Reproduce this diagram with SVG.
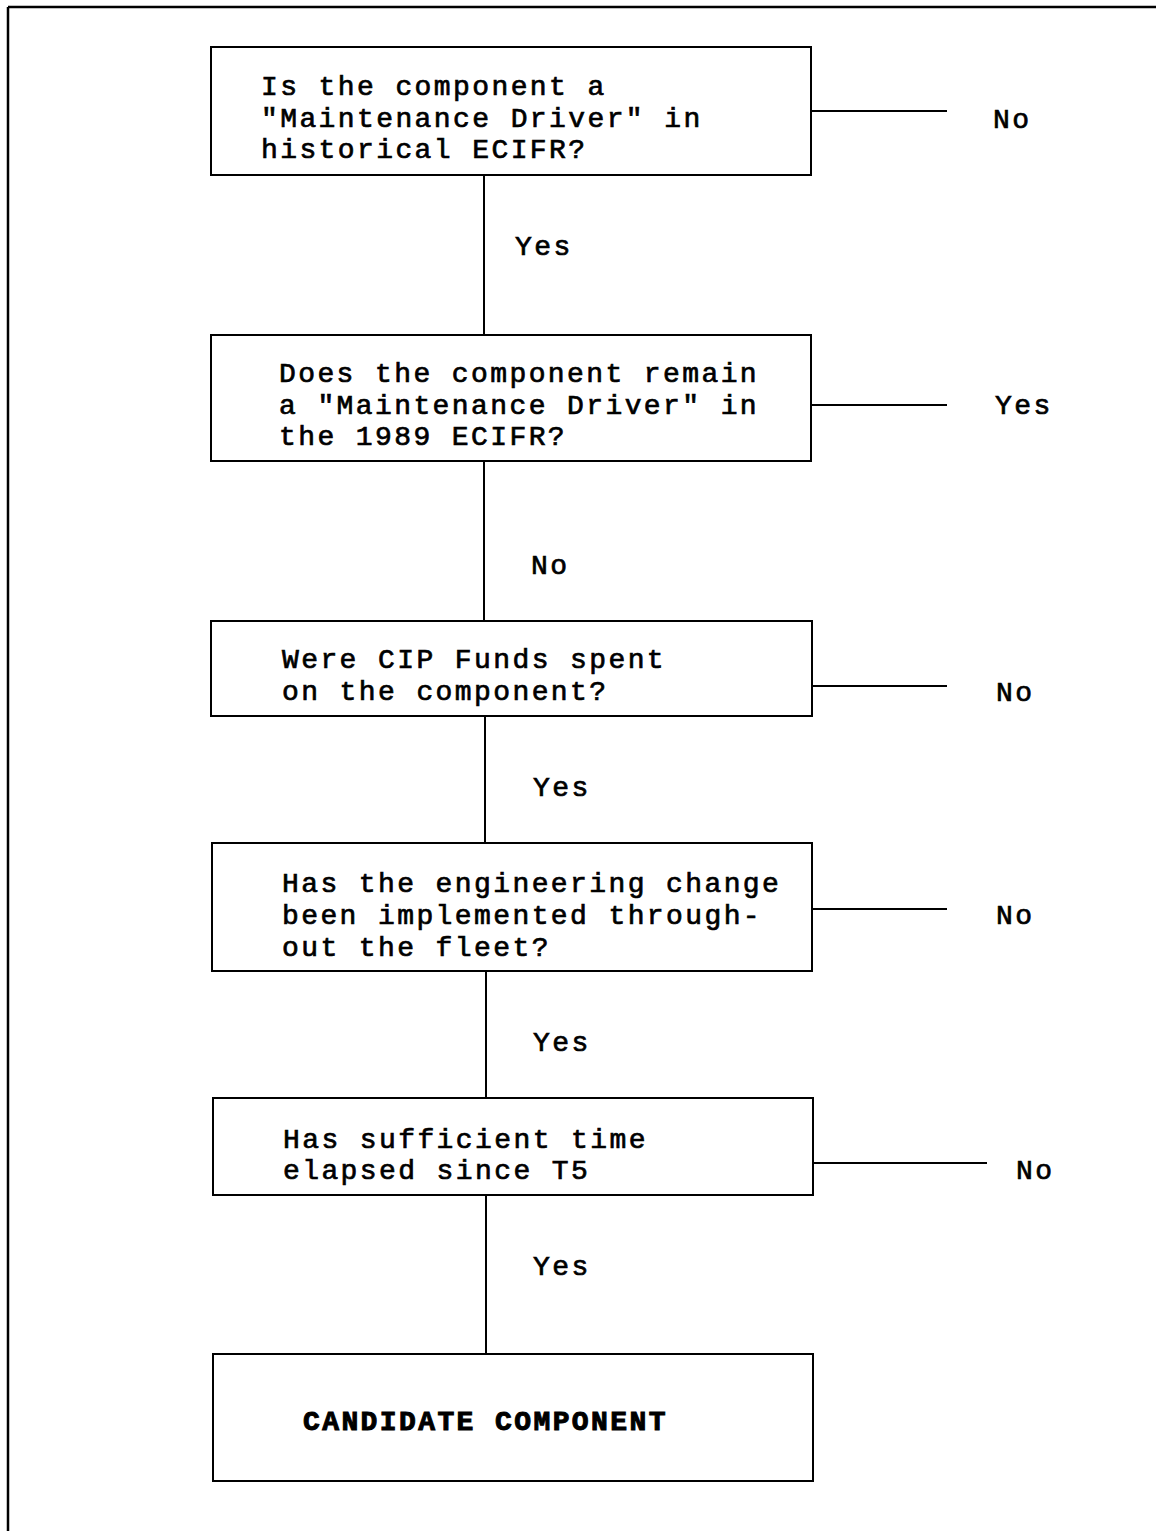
<svg xmlns="http://www.w3.org/2000/svg" width="1156" height="1531" viewBox="0 0 1156 1531">
<style>
.box{fill:#fff;stroke:#000;stroke-width:2}
.ln{stroke:#000;stroke-width:2;fill:none}
.frame{stroke:#000;stroke-width:2.5;fill:none}
.t{font-family:"Liberation Mono","Courier New",monospace;font-size:28px;letter-spacing:2.4px;fill:#000;stroke:#000;stroke-width:0.7}
.b{font-weight:bold;stroke-width:1}
</style>
<rect width="1156" height="1531" fill="#fff"/>
<g id="frame">
<path class="frame" d="M8,7 H1156 M8,7 V1531"/>
</g>
<g id="connectors">
<path class="ln" d="M484,175 V335"/>
<path class="ln" d="M484,461 V621"/>
<path class="ln" d="M485,716 V843"/>
<path class="ln" d="M486,971 V1098"/>
<path class="ln" d="M486,1195 V1354"/>
<path class="ln" d="M811,111 H947"/>
<path class="ln" d="M811,405 H947"/>
<path class="ln" d="M812,686 H947"/>
<path class="ln" d="M812,909 H947"/>
<path class="ln" d="M813,1163 H987"/>
<text class="t" x="515" y="255">Yes</text>
<text class="t" x="531" y="574">No</text>
<text class="t" x="533" y="796">Yes</text>
<text class="t" x="533" y="1051">Yes</text>
<text class="t" x="533" y="1275">Yes</text>
<text class="t" x="993" y="128">No</text>
<text class="t" x="995" y="414">Yes</text>
<text class="t" x="996" y="701">No</text>
<text class="t" x="996" y="924">No</text>
<text class="t" x="1016" y="1179">No</text>
</g>
<g id="node1">
<rect class="box" x="211" y="47" width="600" height="128"/>
<text class="t" x="261" y="95">Is the component a</text>
<text class="t" x="261" y="127">"Maintenance Driver" in</text>
<text class="t" x="261" y="158">historical ECIFR?</text>
</g>
<g id="node2">
<rect class="box" x="211" y="335" width="600" height="126"/>
<text class="t" x="279" y="382">Does the component remain</text>
<text class="t" x="279" y="414">a "Maintenance Driver" in</text>
<text class="t" x="279" y="445">the 1989 ECIFR?</text>
</g>
<g id="node3">
<rect class="box" x="211" y="621" width="601" height="95"/>
<text class="t" x="282" y="668">Were CIP Funds spent</text>
<text class="t" x="282" y="700">on the component?</text>
</g>
<g id="node4">
<rect class="box" x="212" y="843" width="600" height="128"/>
<text class="t" x="282" y="892">Has the engineering change</text>
<text class="t" x="282" y="924">been implemented through-</text>
<text class="t" x="282" y="956">out the fleet?</text>
</g>
<g id="node5">
<rect class="box" x="213" y="1098" width="600" height="97"/>
<text class="t" x="283" y="1148">Has sufficient time</text>
<text class="t" x="283" y="1179">elapsed since T5</text>
</g>
<g id="node6">
<rect class="box" x="213" y="1354" width="600" height="127"/>
<text class="t b" x="303" y="1430">CANDIDATE COMPONENT</text>
</g>
</svg>
